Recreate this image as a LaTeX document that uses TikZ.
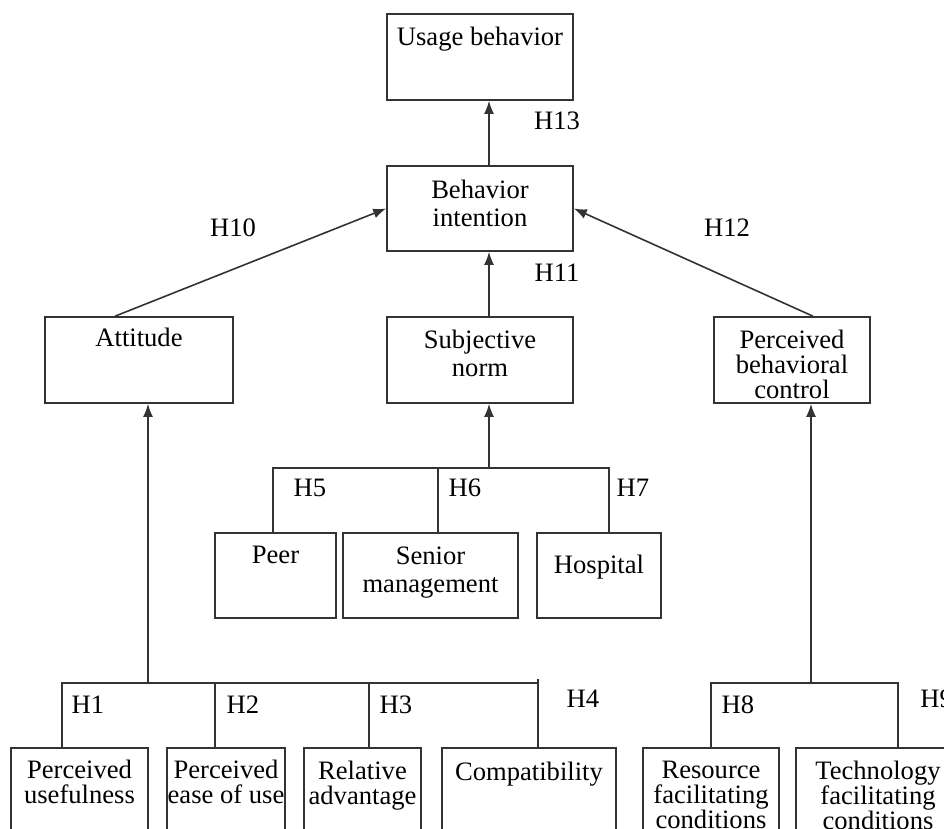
\documentclass[tikz,border=0pt]{standalone}
\usepackage{fontspec}
\setmainfont{Liberation Serif}
\usetikzlibrary{positioning,arrows.meta}

\tikzset{
  box/.style={draw=black!80, line width=0.8pt, inner sep=0pt},
  lbl/.style={font=\fontsize{13.3}{14}\selectfont, align=center, inner sep=0pt},
  lbltight/.style={lbl, font=\fontsize{13.3}{12.5}\selectfont},
  hyp/.style={font=\fontsize{13.3}{13.3}\selectfont, inner sep=0pt},
  conn/.style={draw=black!80, line width=0.8pt},
  arr/.style={conn, -{Latex[length=6.5pt,width=5pt]}}
}

\begin{document}
\begin{tikzpicture}[x=0.5pt, y=-0.5pt]
            \useasboundingbox (0,0) rectangle (944,829);
            \clip (0,0) rectangle (944,829);
            % ==== TOP ====
            \node[box, minimum width=93pt, minimum height=43pt] (usage) at (480,57) {};
            \node[box, minimum width=93pt, minimum height=42.5pt] (intent) at (480,208.5) {};
            \node[lbl, below=6.5pt of usage.north] {Usage behavior};
            \node[lbl, below=7pt of intent.north] {Behavior\\intention};
            % ==== MIDDLE ROW ====
            \node[box, minimum width=94pt, minimum height=43pt] (attitude) at (139,360) {};
            \node[box, minimum width=93pt, minimum height=43pt] (subj) at (480,360) {};
            \node[box, minimum width=78pt, minimum height=43pt] (pbc) at (792,360) {};
            \node[lbl, below=5.5pt of attitude.north] {Attitude};
            \node[lbl, below=6.5pt of subj.north] {Subjective\\norm};
            \node[lbltight, below=6.5pt of pbc.north] {Perceived\\behavioral\\control};
            % ==== NORM SOURCES ====
            \node[box, minimum width=60.5pt, minimum height=42.5pt] (peer) at (275.5,575.5) {};
            \node[box, minimum width=87.5pt, minimum height=42.5pt] (senior) at (430.5,575.5) {};
            \node[box, minimum width=62pt, minimum height=42.5pt] (hospital) at (599,575.5) {};
            \node[lbl, below=6.5pt of peer.north] {Peer};
            \node[lbl, below=7pt of senior.north] {Senior\\management};
            \node[lbl, below=11pt of hospital.north] {Hospital};
            % ==== BOTTOM ROW ====
            \node[box, minimum width=68.5pt, minimum height=56pt] (pu) at (79.5,804) {};
            \node[box, minimum width=59pt, minimum height=56pt] (ease) at (226,804) {};
            \node[box, minimum width=58.5pt, minimum height=56pt] (ra) at (362.5,804) {};
            \node[box, minimum width=87pt, minimum height=56pt] (compat) at (529,804) {};
            \node[box, minimum width=68pt, minimum height=56pt] (resource) at (711,804) {};
            \node[box, minimum width=82pt, minimum height=56pt] (tech) at (878,804) {};
            \node[lbltight, below=6pt of pu.north] {Perceived\\usefulness};
            \node[lbltight, below=6pt of ease.north] {Perceived\\ease of use};
            \node[lbltight, below=6.5pt of ra.north] {Relative\\advantage};
            \node[lbltight, below=7pt of compat.north] {Compatibility};
            \node[lbltight, below=6.5pt of resource.north] {Resource\\facilitating\\conditions};
            \node[lbltight, below=6.5pt of tech.north] {Technology\\facilitating\\conditions};

            % ==== ARROWS TO INTENTION / USAGE ====
            \draw[arr] ([xshift=4.5pt]intent.north) -- ([xshift=4.5pt]usage.south);
            \draw[arr] ([xshift=-12pt]attitude.north) -- (intent.west);
            \draw[arr] ([xshift=4.5pt]subj.north) -- ([xshift=4.5pt]intent.south);
            \draw[arr] ([xshift=10.5pt]pbc.north) -- (intent.east);

            % ==== TREE UNDER SUBJECTIVE NORM ====
            \coordinate (m0) at (489,468);
            \coordinate (m1) at (273,468);
            \coordinate (m2) at (438,468);
            \coordinate (m3) at (609,468);
            \draw[arr] (m0) -- (m0 |- subj.south);
            \draw[conn] (m1 |- peer.north) -- (m1) -- (m3) -- (m3 |- hospital.north);
            \draw[conn] (m2) -- (m2 |- senior.north);

            % ==== TREE UNDER ATTITUDE ====
            \coordinate (l0) at (148,683);
            \coordinate (l1) at (62,683);
            \coordinate (l2) at (215,683);
            \coordinate (l3) at (369,683);
            \coordinate (l4) at (538,683);
            \draw[arr] (l0) -- (l0 |- attitude.south);
            \draw[conn] (l1 |- pu.north) -- (l1) -- (l4);
            \draw[conn] (l2) -- (l2 |- ease.north);
            \draw[conn] (l3) -- (l3 |- ra.north);
            \draw[conn] ([yshift=2pt]l4) -- (l4 |- compat.north);

            % ==== TREE UNDER PERCEIVED BEHAVIORAL CONTROL ====
            \coordinate (r0) at (811,683);
            \coordinate (r1) at (711,683);
            \coordinate (r2) at (898,683);
            \draw[arr] (r0) -- (r0 |- pbc.south);
            \draw[conn] (r1 |- resource.north) -- (r1) -- (r2) -- (r2 |- tech.north);

            % ==== HYPOTHESES ====
            \node[hyp] (h1) at (88,705) {H1};
            \node[hyp] (h2) at (243,705) {H2};
            \node[hyp] (h3) at (396,705) {H3};
            \node[hyp] (h4) at (583,699) {H4};
            \node[hyp] (h5) at (310,488) {H5};
            \node[hyp] (h6) at (465,488) {H6};
            \node[hyp] (h7) at (633,488) {H7};
            \node[hyp] (h8) at (738,705) {H8};
            \node[hyp, anchor=west] (h9) at (920,699) {H9};
            \node[hyp] (h10) at (233,228) {H10};
            \node[hyp] (h11) at (557,273) {H11};
            \node[hyp] (h12) at (727,228) {H12};
            \node[hyp] (h13) at (557,121) {H13};
\end{tikzpicture}
\end{document}
